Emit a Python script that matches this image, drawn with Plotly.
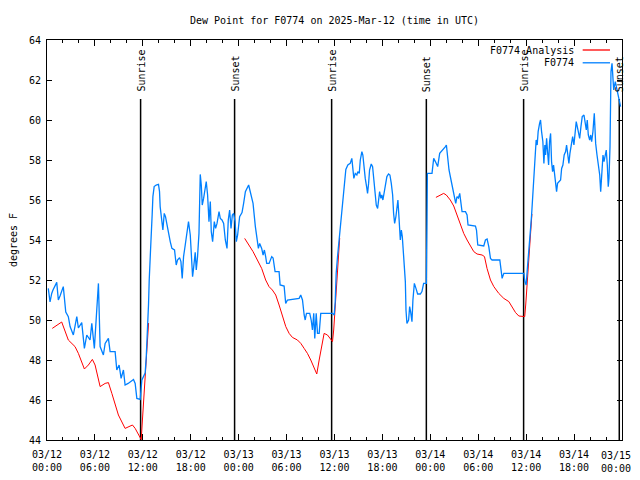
import plotly.graph_objects as go
import pandas as pd

BASE = pd.Timestamp("2025-03-12 00:00")

# ---- observed dew point (F0774), hours since 03/12 00:00 UTC ----
obs_hours = [0.16, 0.38, 0.59, 0.75, 1.22, 1.42, 1.63, 2.04, 2.35, 2.67, 2.89, 3.30, 3.73, 3.93, 4.35,
             4.68, 4.98, 5.39, 5.61, 5.93, 6.23, 6.44, 6.65, 7.06, 7.28, 7.69, 7.90, 8.53, 8.74, 9.03,
             9.28, 9.57, 9.78, 10.16, 10.83, 11.04, 11.25, 11.67, 11.88, 12.29, 12.42, 12.58, 12.71,
             12.80, 12.92, 13.01, 13.17, 13.26, 13.42, 13.67, 13.96, 14.09, 14.17, 14.30, 14.51, 14.68,
             14.84, 15.02, 15.22, 15.43, 15.64, 15.97, 16.18, 16.34, 16.60, 16.77, 16.93, 17.10, 17.31,
             17.52, 17.72, 17.94, 18.10, 18.23, 18.35, 18.56, 18.69, 18.85, 19.03, 19.19, 19.32, 19.44,
             19.61, 19.82, 19.94, 20.11, 20.28, 20.45, 20.57, 20.74, 20.95, 21.11, 21.29, 21.54, 21.70,
             21.91, 22.12, 22.33, 22.54, 22.70, 22.87, 23.04, 23.21, 23.37, 23.55, 23.71, 23.87, 24.12,
             24.42, 24.62, 24.84, 25.25, 25.46, 25.80, 26.09, 26.22, 26.47, 26.63, 26.88, 27.06, 27.22,
             27.38, 27.51, 27.81, 28.14, 28.31, 28.56, 29.06, 29.19, 29.69, 29.89, 30.11, 30.95, 31.57,
             31.77, 31.99, 32.20, 32.33, 32.49, 32.90, 33.08, 33.24, 33.40, 33.53, 33.71, 33.87, 34.08,
             34.28, 35.75, 35.96, 36.09, 36.21, 36.38, 36.59, 36.72, 36.84, 37.00, 37.13, 37.26, 37.42,
             37.67, 37.97, 38.17, 38.30, 38.42, 38.60, 38.80, 38.92, 39.10, 39.23, 39.43, 39.55, 39.68,
             39.85, 40.02, 40.14, 40.27, 40.39, 40.60, 40.77, 40.93, 41.11, 41.23, 41.40, 41.52, 41.65,
             41.81, 41.93, 42.06, 42.24, 42.40, 42.56, 42.77, 42.94, 43.11, 43.28, 43.40, 43.53, 43.69,
             43.82, 43.94, 44.03, 44.12, 44.24, 44.37, 44.49, 44.66, 44.87, 44.95, 45.07, 45.28, 45.41,
             45.53, 45.70, 45.82, 46.00, 46.20, 46.41, 46.75, 46.95, 47.16, 47.50, 47.58, 47.63, 48.21,
             48.42, 48.63, 48.92, 49.17, 49.59, 49.89, 50.01, 50.18, 50.34, 50.59, 50.84, 51.02, 51.18,
             51.34, 51.52, 51.68, 51.84, 51.97, 52.40, 52.60, 52.72, 53.65, 53.78, 53.94, 54.69, 54.90,
             55.11, 55.32, 55.53, 55.73, 56.70, 56.86, 56.99, 57.20, 59.71, 59.84, 60.00, 60.12, 60.25,
             60.42, 60.55, 60.68, 60.80, 60.93, 61.05, 61.18, 61.25, 61.38, 61.50, 61.68, 61.80, 61.93,
             62.09, 62.22, 62.34, 62.43, 62.56, 62.68, 62.81, 62.93, 63.06, 63.18, 63.31, 63.43, 63.56,
             63.68, 63.81, 63.93, 64.10, 64.31, 64.44, 64.60, 64.76, 64.94, 65.06, 65.19, 65.35, 65.48,
             65.64, 65.82, 65.98, 66.11, 66.27, 66.40, 66.52, 66.70, 66.86, 67.02, 67.24, 67.36, 67.53,
             67.65, 67.78, 67.95, 68.08, 68.20, 68.36, 68.53, 68.70, 68.87, 69.03, 69.21, 69.33, 69.46,
             69.62, 69.75, 69.87, 70.03, 70.16, 70.28, 70.37, 70.50, 70.62, 70.75, 70.83, 70.96, 71.16,
             71.37, 71.54, 71.72, 71.82]
obs_dewpt = [51.58, 50.9, 51.33, 51.5, 51.88, 51.0, 51.2, 51.67, 50.4, 50.17, 49.67, 49.25, 50.17, 49.6, 49.87,
             48.58, 49.25, 49.0, 49.83, 48.58, 50.5, 51.83, 48.67, 48.25, 48.83, 49.08, 48.42, 48.42, 47.5, 47.75,
             47.08, 47.5, 46.75, 46.83, 47.03, 46.83, 46.08, 46.03, 47.0, 47.35, 48.1, 49.4, 50.75,
             52.0, 52.83, 53.9, 55.28, 56.17, 56.67, 56.75, 56.78, 56.42, 55.67, 55.12, 54.5, 55.33,
             55.17, 54.78, 54.25, 53.92, 53.58, 53.5, 52.75, 53.0, 53.12, 52.92, 52.08, 53.17, 53.75,
             54.25, 54.92, 54.25, 53.08, 52.17, 52.58, 53.38, 52.5, 53.17, 54.33, 57.28, 56.75, 55.75,
             56.08, 56.75, 56.92, 56.25, 54.92, 55.92, 54.42, 53.92, 54.92, 54.58, 54.83, 55.42, 55.08,
             55.0, 54.83, 54.0, 53.58, 55.0, 55.5, 54.58, 55.25, 55.33, 54.92, 53.92, 54.25, 55.17,
             55.37, 55.83, 56.42, 56.75, 56.42, 55.83, 54.67, 54.25, 53.58, 53.83, 53.58, 53.25, 53.5,
             53.17, 52.83, 52.83, 53.17, 53.1, 52.42, 52.42, 51.75, 51.7, 50.83, 51.0, 51.03, 51.08,
             51.25, 51.0, 50.25, 50.0, 50.33, 50.33, 50.0, 49.5, 50.33, 49.08, 50.33, 49.33, 49.33,
             50.33, 50.33, 50.25, 50.92, 52.33, 53.17, 54.08, 54.83, 55.42, 56.0, 56.67, 57.17, 57.53,
             57.75, 57.83, 58.08, 57.67, 57.08, 57.33, 57.25, 57.42, 57.33, 58.0, 58.42, 58.25, 57.53,
             57.08, 56.67, 56.33, 56.83, 57.5, 57.8, 57.67, 57.0, 56.33, 55.75, 55.58, 56.0, 56.42,
             56.08, 56.25, 56.0, 56.42, 56.83, 57.17, 57.3, 57.25, 56.83, 56.25, 55.33, 54.83, 55.17,
             55.83, 56.0, 55.42, 54.67, 54.0, 54.5, 54.17, 53.17, 51.92, 50.5, 49.83, 50.0, 50.67,
             50.42, 49.92, 51.0, 51.83, 51.58, 51.3, 51.3, 51.42, 51.83, 51.83, 55.0, 57.33, 57.33,
             58.08, 57.92, 57.67, 58.33, 58.5, 58.67, 58.75, 58.08, 57.5, 57.0, 56.5, 56.17, 55.83,
             56.17, 56.1, 56.33, 55.92, 55.42, 55.42, 55.25, 54.75, 54.7, 54.5, 53.75, 53.7, 54.0,
             54.05, 53.67, 53.08, 53.0, 53.0, 52.42, 52.08, 52.33, 52.33, 51.92, 51.75, 52.42, 53.25,
             53.92, 54.58, 55.25, 56.08, 57.08, 57.75, 58.25, 59.0, 58.75, 59.42, 59.83, 60.0, 59.42,
             58.92, 57.83, 58.75, 58.25, 59.08, 58.42, 57.75, 58.92, 59.33, 57.92, 57.42, 57.75, 57.33,
             56.67, 56.42, 56.83, 56.92, 57.0, 57.58, 57.75, 58.25, 58.42, 58.75, 58.25, 57.83, 58.33,
             58.83, 59.17, 58.75, 59.25, 59.92, 59.67, 59.33, 59.08, 59.67, 60.17, 60.25, 59.92, 59.5,
             60.0, 59.25, 59.0, 59.25, 58.92, 59.42, 60.33, 58.83, 58.25, 57.75, 57.25, 56.42, 57.5,
             58.25, 57.92, 58.25, 58.5, 57.75, 56.67, 57.08, 58.67, 62.42, 62.83, 62.33, 61.5, 61.92,
             61.5, 61.08, 60.83, 60.67]

# ---- analysis dew point (F0774 Analysis), three segments ----
ana_hours_1 = [0.66, 1.22, 1.63, 1.84, 2.67, 3.51, 3.93, 4.68, 5.18, 5.68, 6.02, 6.65, 7.28, 7.69, 8.12,
               8.94, 9.78, 10.70, 11.04, 11.67, 11.80, 11.95, 12.17, 12.35, 12.58, 12.72]
ana_dewpt_1 = [49.58, 49.75, 49.87, 49.9, 49.0, 48.67, 48.33, 47.55, 47.75, 48.03, 47.75, 46.67, 46.83, 46.87, 46.33,
               45.25, 44.58, 44.75, 44.58, 44.1, 44.02, 45.0, 46.3, 47.3, 49.0, 49.85]
ana_hours_2 = [24.75, 25.30, 25.80, 26.34, 26.88, 27.38, 27.80, 28.22, 28.64, 29.06, 29.48, 29.90, 30.32,
               30.73, 31.36, 31.78, 32.20, 32.61, 33.03, 33.45, 33.78, 34.08, 34.37, 34.70, 35.12, 35.54,
               35.75, 35.90, 36.08, 36.25, 36.50, 36.65]
ana_dewpt_2 = [54.08, 53.75, 53.42, 53.0, 52.58, 52.0, 51.67, 51.5, 51.25, 50.75, 50.17, 49.67, 49.33,
               49.13, 49.0, 48.83, 48.58, 48.33, 48.0, 47.58, 47.3, 48.0, 48.67, 49.33, 49.25, 49.03,
               48.92, 49.5, 50.6, 51.8, 53.2, 54.1]
ana_hours_3 = [48.70, 49.26, 49.67, 50.00, 50.50, 50.93, 51.35, 51.77, 52.18, 52.60, 53.02, 53.44, 53.85,
               54.48, 54.78, 55.10, 55.53, 55.95, 56.57, 57.20, 57.83, 58.24, 58.67, 59.08, 59.62, 59.82,
               59.95, 60.15, 60.30, 60.50, 60.60, 60.72]
ana_dewpt_3 = [56.13, 56.25, 56.33, 56.25, 56.0, 55.7, 55.25, 54.75, 54.33, 54.0, 53.67, 53.42, 53.3,
               53.25, 53.17, 52.58, 52.0, 51.67, 51.33, 51.08, 50.92, 50.67, 50.37, 50.2, 50.17, 50.17,
               50.8, 52.0, 53.1, 53.9, 54.5, 55.3]

# ---- sunrise / sunset events ----
event_names = ["Sunrise", "Sunset", "Sunrise", "Sunset", "Sunrise", "Sunset"]
event_hours = [11.72, 23.49, 35.64, 47.50, 59.68, 71.66]

# ---- axes ----
x_tick_hours = [0, 6, 12, 18, 24, 30, 36, 42, 48, 54, 60, 66, 72]
x_tick_text = ["03/12<br>00:00", "03/12<br>06:00", "03/12<br>12:00", "03/12<br>18:00",
               "03/13<br>00:00", "03/13<br>06:00", "03/13<br>12:00", "03/13<br>18:00",
               "03/14<br>00:00", "03/14<br>06:00", "03/14<br>12:00", "03/14<br>18:00",
               "03/15<br>00:00"]
y_ticks = [44, 46, 48, 50, 52, 54, 56, 58, 60, 62, 64]

title_text = "Dew Point for F0774 on 2025-Mar-12 (time in UTC)"
y_title = "degrees F"
legend_names = ["F0774 Analysis", "F0774"]

RED = "rgb(255,0,0)"
BLUE = "rgb(0,128,255)"
FONT = "DejaVu Sans Mono"

# the page body is offset by 8px; keep the page from scrolling vertically
FIG_W, FIG_H = 632, 464


def to_time(hours):
    return [None if h is None else BASE + pd.Timedelta(hours=h) for h in hours]


ana_hours = ana_hours_1 + [None] + ana_hours_2 + [None] + ana_hours_3
ana_dewpt = ana_dewpt_1 + [None] + ana_dewpt_2 + [None] + ana_dewpt_3

fig = go.Figure()
fig.add_trace(go.Scatter(x=to_time(ana_hours), y=ana_dewpt, mode="lines", name=legend_names[0],
                         line=dict(color=RED, width=1), connectgaps=False, showlegend=False))
fig.add_trace(go.Scatter(x=to_time(obs_hours), y=obs_dewpt, mode="lines", name=legend_names[1],
                         line=dict(color=BLUE, width=1.3), showlegend=False))

LABEL_BASE = 61.35
LINE_TOP = 61.05
for name, h in zip(event_names, event_hours):
    t = BASE + pd.Timedelta(hours=h)
    fig.add_shape(type="line", xref="x", yref="y", x0=t, x1=t, y0=44, y1=LINE_TOP,
                  line=dict(color="black", width=1.5), layer="below")
    fig.add_annotation(x=t, y=LABEL_BASE, xref="x", yref="y", text=name, textangle=-90,
                       showarrow=False, xanchor="center", yanchor="bottom",
                       font=dict(family=FONT, size=10, color="black"), borderpad=0)

# manual legend (text on the left, sample line on the right)
leg_y = [0.975, 0.943]
leg_col = [RED, BLUE]
for name, yy, c in zip(legend_names, leg_y, leg_col):
    fig.add_annotation(x=0.918, y=yy, xref="paper", yref="paper", text=name, showarrow=False,
                       xanchor="right", yanchor="middle", borderpad=0,
                       font=dict(family=FONT, size=10, color="black"))
    fig.add_shape(type="line", xref="paper", yref="paper", x0=0.9316, x1=0.9791, y0=yy, y1=yy,
                  line=dict(color=c, width=1.3))

# the last tick label would be cut by the window edge: draw it as an annotation kept inside
axis_text = x_tick_text[:-1] + [""]
fig.add_annotation(x=to_time([x_tick_hours[-1]])[0], y=0, xref="x", yref="paper",
                   text=x_tick_text[-1], showarrow=False, xanchor="right", yanchor="top",
                   xshift=10, yshift=-9, borderpad=0, align="center",
                   font=dict(family=FONT, size=10, color="black"))

fig.update_layout(
    width=FIG_W, height=FIG_H,
    margin=dict(l=39, r=18, t=32, b=32, autoexpand=False),
    paper_bgcolor="white", plot_bgcolor="white",
    font=dict(family=FONT, size=10, color="black"),
    title=dict(text=title_text, x=0.5, xref="paper", y=1 - 12 / FIG_H, yanchor="middle",
               font=dict(family=FONT, size=10, color="black")),
    showlegend=False,
)
fig.update_xaxes(
    range=[BASE, BASE + pd.Timedelta(hours=72)],
    tickvals=to_time(x_tick_hours), ticktext=axis_text,
    ticks="inside", ticklen=6, tickcolor="black", tickwidth=1,
    showline=True, linecolor="black", linewidth=1, mirror="ticks",
    showgrid=False, zeroline=False, automargin=False, ticklabelstandoff=5,
    ticklabeloverflow="allow",
    minor=dict(ticks="inside", ticklen=3, dtick=2 * 3600000, tickcolor="black", showgrid=False),
    tickfont=dict(family=FONT, size=10, color="black"),
)
fig.update_yaxes(
    range=[44, 64], tickvals=y_ticks,
    ticks="inside", ticklen=5, tickcolor="black", tickwidth=1,
    showline=True, linecolor="black", linewidth=1, mirror="ticks",
    showgrid=False, zeroline=False, automargin=False, ticklabelstandoff=3,
    title=dict(text=y_title, font=dict(family=FONT, size=10, color="black"), standoff=18),
    tickfont=dict(family=FONT, size=10, color="black"),
)

fig.write_html("out.html")
